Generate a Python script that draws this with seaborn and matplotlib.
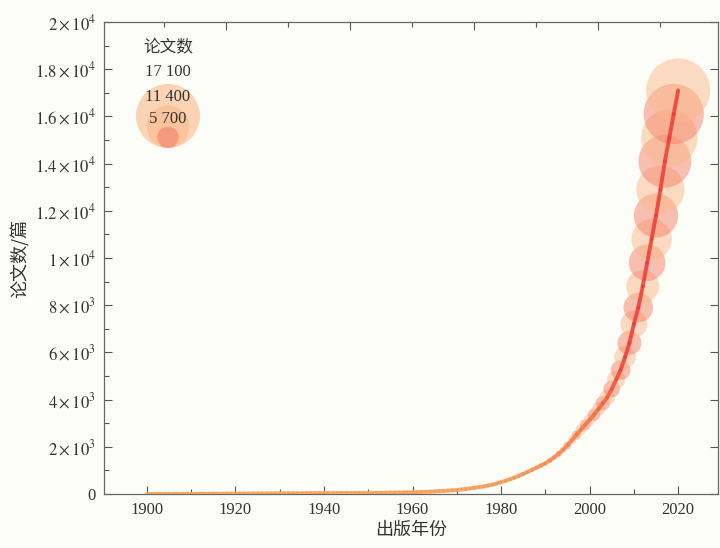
import numpy as np
import pandas as pd
import matplotlib
matplotlib.use("Agg")
import matplotlib.pyplot as plt
from matplotlib.collections import LineCollection
from matplotlib.colors import LinearSegmentedColormap, Normalize
from matplotlib.ticker import FixedLocator, MultipleLocator
import seaborn as sns

# ---------------- data ----------------
years = list(range(1900, 2021))
counts = [
    2, 3, 3, 4, 4, 5, 5, 6, 6, 7,
    8, 8, 9, 10, 10, 11, 12, 12, 13, 14,
    15, 16, 17, 18, 19, 20, 21, 22, 24, 25,
    26, 27, 28, 29, 30, 31, 32, 33, 34, 35,
    36, 37, 38, 39, 40, 41, 42, 43, 44, 45,
    46, 48, 50, 52, 54, 57, 60, 63, 66, 70,
    75, 80, 86, 93, 101, 110, 120, 131, 143, 156,
    170, 190, 212, 236, 262, 290, 320, 355, 395, 445,
    500, 560, 625, 695, 770, 850, 935, 1025, 1115, 1205,
    1300, 1420, 1550, 1700, 1870, 2060, 2280, 2500, 2720, 2930,
    3140, 3360, 3600, 3850, 4100, 4450, 4850, 5250, 5800, 6400,
    7200, 7900, 8800, 9800, 10800, 11800, 12900, 14100, 15100, 16100,
    17100,
]
legend_values = [17100, 11400, 5700]
legend_labels = ["17 100", "11 400", "5 700"]
y_ticks = [0, 2000, 4000, 6000, 8000, 10000, 12000, 14000, 16000, 18000, 20000]
y_tick_labels = ["0", r"$2\times10^{3}$", r"$4\times10^{3}$", r"$6\times10^{3}$",
                 r"$8\times10^{3}$", r"$1\times10^{4}$", r"$1.2\times10^{4}$",
                 r"$1.4\times10^{4}$", r"$1.6\times10^{4}$", r"$1.8\times10^{4}$",
                 r"$2\times10^{4}$"]
x_ticks = [1900, 1920, 1940, 1960, 1980, 2000, 2020]

df = pd.DataFrame({"year": years, "count": counts})
df["grp"] = np.where(df["year"] % 2 == 0, "a", "b")

PEACH = "#f9b98a"
SALMON = "#f5806a"
LINE_RED = "#ee3b33"

# ---------------- figure ----------------
sns.set_theme(style="ticks")
plt.rcParams["font.family"] = ["Liberation Serif", "Noto Sans CJK SC", "DejaVu Sans"]
plt.rcParams["mathtext.fontset"] = "stix"

fig = plt.figure(figsize=(7.2, 5.48), dpi=100)
fig.patch.set_facecolor("#fdfdf7")
ax = fig.add_axes([104 / 720, 54 / 548, 614 / 720, 472 / 548])
ax.set_facecolor("#fdfdf7")

# diameter proportional to value: 17100 -> 64 px
px_per_val = 64.0 / 17100.0
def size_pts2(v):
    d_pt = np.asarray(v, dtype=float) * px_per_val * 72.0 / 100.0
    return d_pt ** 2

sns.scatterplot(data=df, x="year", y="count", hue="grp",
                palette={"a": PEACH, "b": SALMON}, s=size_pts2(df["count"].values),
                alpha=0.5, edgecolor="none", linewidth=0, legend=False, ax=ax,
                zorder=2)

# gradient line: orange at low values, red at high values
pts = np.column_stack([df["year"].values, df["count"].values])
segs = np.stack([pts[:-1], pts[1:]], axis=1)
cmap = LinearSegmentedColormap.from_list("or", ["#f4a25c", "#f07a48", LINE_RED])
lc = LineCollection(segs, cmap=cmap, norm=Normalize(0, 6000), linewidths=2.8,
                    alpha=0.85, zorder=3, capstyle="round")
lc.set_array(df["count"].values[1:])
ax.add_collection(lc)

ax.set_xlim(1890.3, 2029.0)
ax.set_ylim(0, 20000)

ax.set_xticks(x_ticks)
ax.set_xticklabels([str(t) for t in x_ticks], fontsize=12, color="#333333")
ax.xaxis.set_minor_locator(MultipleLocator(10))
ax.set_yticks(y_ticks)
ax.set_yticklabels(y_tick_labels, fontsize=12, color="#333333")
ax.yaxis.set_minor_locator(MultipleLocator(1000))

ax.tick_params(axis="both", which="major", direction="in", length=6, width=0.8,
               color="#555555", pad=6)
ax.tick_params(axis="both", which="minor", direction="in", length=3.5, width=0.8,
               color="#555555")
ax.tick_params(axis="y", which="major", right=True)
ax.tick_params(axis="y", which="minor", right=False)
for sp in ax.spines.values():
    sp.set_visible(True)
    sp.set_color("#666666")
    sp.set_linewidth(0.9)

# top axis ticks (independent spacing as in reference)
axt = ax.twiny()
axt.set_xlim(ax.get_xlim())
axt.xaxis.set_major_locator(FixedLocator([1917.9, 1945.9, 1973.9, 2001.9]))
axt.xaxis.set_minor_locator(FixedLocator([1903.9, 1931.9, 1959.9, 1987.9, 2015.9]))
axt.set_xticklabels([])
axt.tick_params(axis="x", which="major", direction="in", length=6, width=0.8, color="#555555")
axt.tick_params(axis="x", which="minor", direction="in", length=3.5, width=0.8, color="#555555")
for sp in axt.spines.values():
    sp.set_visible(False)

cjk = ["Noto Sans CJK SC", "DejaVu Sans"]
ax.set_xlabel("出版年份", fontsize=13, family=cjk, color="#333333", labelpad=2)
ax.set_ylabel("论文数/篇", fontsize=13, family=cjk, color="#333333", labelpad=4)

# ---------------- bubble legend ----------------
ax_h = 472.0
lx = (168 - 104) / 614.0
bottom_px = 148
leg_colors = [PEACH, PEACH, SALMON]
for v, c in zip(legend_values, leg_colors):
    d_px = v * px_per_val
    cy = (494 - bottom_px + d_px / 2.0) / ax_h
    ax.scatter([lx], [cy], s=size_pts2(v), color=c, alpha=0.6, edgecolor="none",
               transform=ax.transAxes, zorder=4, clip_on=False)

ax.text(lx, (494 - 47) / ax_h, "论文数", transform=ax.transAxes, ha="center",
        va="center", fontsize=12, family=cjk, color="#333333", zorder=5)
for lab, ypx in zip(legend_labels, [72, 97, 119]):
    ax.text(lx, (494 - ypx) / ax_h, lab, transform=ax.transAxes, ha="center",
            va="center", fontsize=12, color="#333333", zorder=5)

fig.savefig("out.png", dpi=100, facecolor=fig.get_facecolor())
